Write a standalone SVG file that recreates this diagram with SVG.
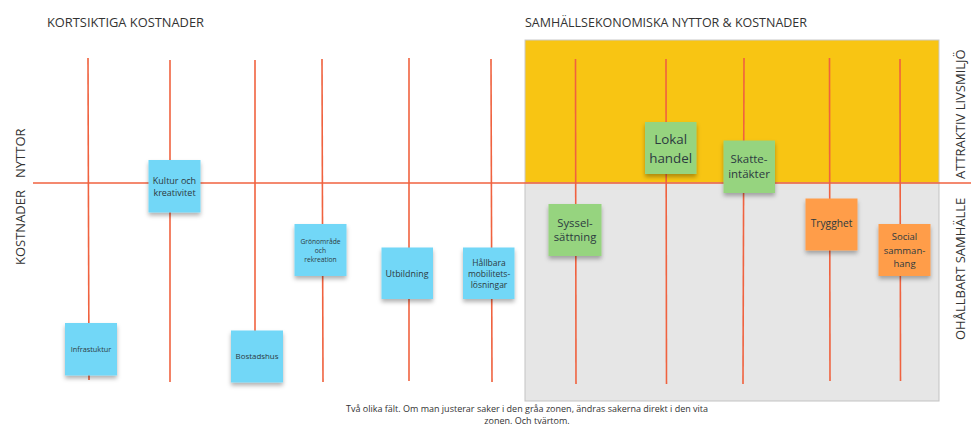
<svg xmlns="http://www.w3.org/2000/svg" width="971" height="431" viewBox="0 0 971 431">
<style>
text{font-family:"Open Sans","Noto Sans","Liberation Sans",sans-serif;fill:#333}
.h{font-size:13px}
.ln{stroke:#f0623f;stroke-width:1.6;fill:none}
.blue{fill:#72d7f7}
.green{fill:#96d47f}
.orange{fill:#ff9d4a}
.st text{text-anchor:middle;fill:#2d3a3f}
</style>
<defs>
<filter id="sh" x="-20%" y="-20%" width="140%" height="150%">
<feDropShadow dx="0" dy="3" stdDeviation="2" flood-color="#000" flood-opacity="0.3"/>
</filter>
</defs>
<rect width="971" height="431" fill="#fff"/>
<g id="zones">
<rect x="525" y="40" width="414" height="143" fill="#f8c513" stroke="#c9c9c9" stroke-width="1"/>
<rect x="525" y="183" width="414" height="218" fill="#e6e6e6" stroke="#c3c3c3" stroke-width="1"/>
</g>
<g id="headings">
<text class="h" x="47" y="27" textLength="157" lengthAdjust="spacingAndGlyphs">KORTSIKTIGA KOSTNADER</text>
<text class="h" x="525" y="27" textLength="282" lengthAdjust="spacingAndGlyphs">SAMHÄLLSEKONOMISKA NYTTOR &amp; KOSTNADER</text>
<text class="h" transform="translate(25,178) rotate(-90)">NYTTOR</text>
<text class="h" transform="translate(25,265) rotate(-90)">KOSTNADER</text>
<text class="h" transform="translate(965,179) rotate(-90)">ATTRAKTIV LIVSMILJÖ</text>
<text class="h" transform="translate(965,340) rotate(-90)">OHÅLLBART SAMHÄLLE</text>
</g>
<g id="connectors" class="ln">
<line x1="33" y1="183" x2="971" y2="183"/>
<line x1="88" y1="58" x2="89" y2="380"/>
<line x1="170" y1="60" x2="170" y2="382"/>
<line x1="255" y1="60" x2="255" y2="382"/>
<line x1="322" y1="59" x2="323" y2="382"/>
<line x1="409" y1="58" x2="409" y2="381"/>
<line x1="491" y1="59" x2="492" y2="382"/>
<line x1="575.5" y1="59" x2="576" y2="384"/>
<line x1="666" y1="59" x2="666.5" y2="384"/>
<line x1="744" y1="58" x2="743" y2="384"/>
<line x1="829.5" y1="58" x2="830" y2="381"/>
<line x1="900" y1="59" x2="900.5" y2="381"/>
</g>
<g id="n-kultur" class="st"><rect class="blue" filter="url(#sh)" x="148.5" y="160" width="52" height="52.5"/><text font-size="9" x="174.5" y="183.5">Kultur och</text><text font-size="9" x="174.5" y="195.5">kreativitet</text></g>
<g id="n-infra" class="st"><rect class="blue" filter="url(#sh)" x="65" y="323" width="52" height="52.5"/><text font-size="7.3" x="91" y="351.5">Infrastuktur</text></g>
<g id="n-bostad" class="st"><rect class="blue" filter="url(#sh)" x="231" y="330.5" width="52" height="52"/><text font-size="7.9" x="257" y="359">Bostadshus</text></g>
<g id="n-gron" class="st"><rect class="blue" filter="url(#sh)" x="294.5" y="224" width="52" height="52"/><text font-size="6.7" x="320.5" y="243.5">Grönområde</text><text font-size="6.7" x="320.5" y="252.5">och</text><text font-size="6.7" x="320.5" y="261.5">rekreation</text></g>
<g id="n-utb" class="st"><rect class="blue" filter="url(#sh)" x="381.5" y="247.5" width="51.5" height="51.5"/><text font-size="8.9" x="407" y="276.5">Utbildning</text></g>
<g id="n-hallbara" class="st"><rect class="blue" filter="url(#sh)" x="463" y="247.5" width="51.5" height="51.5"/><text font-size="8.5" x="489" y="265.5">Hållbara</text><text font-size="8.5" x="489" y="276.5">mobilitets-</text><text font-size="8.5" x="489" y="287.5">lösningar</text></g>
<g id="n-lokal" class="st"><rect class="green" filter="url(#sh)" x="645" y="122" width="51.5" height="52"/><text font-size="13.4" x="670.7" y="144">Lokal</text><text font-size="13.4" x="670.7" y="162.5">handel</text></g>
<g id="n-skatte" class="st"><rect class="green" filter="url(#sh)" x="723.5" y="140.5" width="51.5" height="52.5"/><text font-size="11.5" x="749" y="162.5">Skatte-</text><text font-size="11.5" x="749" y="177.5">intäkter</text></g>
<g id="n-syssel" class="st"><rect class="green" filter="url(#sh)" x="548.5" y="204" width="53" height="52"/><text font-size="11.3" x="575" y="226.5">Syssel-</text><text font-size="11.3" x="575" y="241">sättning</text></g>
<g id="n-trygg" class="st"><rect class="orange" filter="url(#sh)" x="805.5" y="198.5" width="52" height="52"/><text font-size="10.2" x="831.5" y="227">Trygghet</text></g>
<g id="n-social" class="st"><rect class="orange" filter="url(#sh)" x="878.5" y="224" width="52" height="52"/><text font-size="9.5" x="904.5" y="239.5">Social</text><text font-size="9.5" x="904.5" y="253.5">samman-</text><text font-size="9.5" x="904.5" y="267">hang</text></g>
<g id="caption" font-size="9" text-anchor="middle">
<text x="527" y="412">Två olika fält. Om man justerar saker i den gråa zonen, ändras sakerna direkt i den vita</text>
<text x="527" y="424">zonen. Och tvärtom.</text>
</g>
</svg>
